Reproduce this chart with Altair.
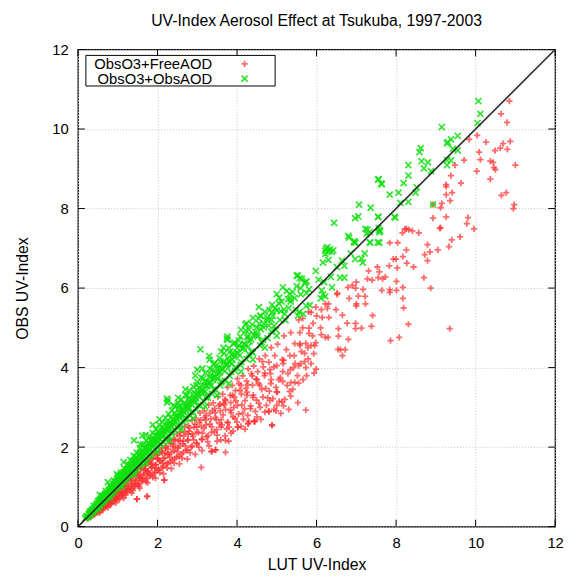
import altair as alt
import pandas as pd

TITLE = "UV-Index Aerosol Effect at Tsukuba, 1997-2003"
X_TITLE = "LUT UV-Index"
Y_TITLE = "OBS UV-Index"
SERIES = ["ObsO3+FreeAOD", "ObsO3+ObsAOD"]
TICKS = [0, 2, 4, 6, 8, 10, 12]
ONE_TO_ONE = [0, 12]

# ObsO3+FreeAOD (red +) : dense band below the 1:1 line
red_dense = [
    (0.28, 0.25), (0.37, 0.35), (0.46, 0.42), (0.55, 0.52), (0.63, 0.58), (0.72, 0.68), (0.81, 0.74),
    (0.89, 0.84), (0.98, 0.90), (1.07, 1.00), (1.15, 1.05), (1.24, 1.16), (1.33, 1.22), (1.41, 1.32),
    (1.50, 1.37), (1.59, 1.49), (1.68, 1.54), (1.76, 1.65), (1.85, 1.70), (1.94, 1.81), (2.03, 1.86),
    (2.12, 1.98), (2.21, 2.03), (2.30, 2.15), (2.40, 2.19), (2.49, 2.32), (2.58, 2.37), (2.68, 2.50),
    (2.77, 2.54), (2.87, 2.68), (2.97, 2.72), (3.07, 2.86), (3.18, 2.91), (3.29, 3.06), (3.40, 3.11),
    (3.52, 3.27), (3.64, 3.33), (3.76, 3.50), (3.88, 3.55), (4.01, 3.72), (4.14, 3.79), (4.28, 3.97),
    (4.42, 4.04), (4.56, 4.22), (4.71, 4.30), (4.86, 4.50), (5.02, 4.59), (5.18, 4.80), (5.35, 4.88),
    (0.35, 0.27), (0.45, 0.37), (0.55, 0.43), (0.65, 0.53), (0.75, 0.59), (0.85, 0.69), (0.95, 0.75),
    (1.05, 0.86), (1.15, 0.91), (1.25, 1.02), (1.35, 1.07), (1.45, 1.18), (1.55, 1.23), (1.65, 1.34),
    (1.75, 1.38), (1.85, 1.50), (1.95, 1.55), (2.05, 1.66), (2.15, 1.71), (2.25, 1.83), (2.35, 1.87),
    (2.45, 1.99), (2.55, 2.03), (2.65, 2.15), (2.76, 2.19), (2.87, 2.33), (2.98, 2.37), (3.10, 2.52),
    (3.22, 2.56), (3.34, 2.71), (3.46, 2.75), (3.58, 2.91), (3.71, 2.95), (3.84, 3.12), (3.97, 3.16),
    (4.11, 3.33), (4.25, 3.38), (4.39, 3.56), (4.54, 3.60), (4.69, 3.80), (4.84, 3.85), (5.00, 4.05),
    (5.16, 4.10), (5.33, 4.30),
    (0.42, 0.30), (0.52, 0.36), (0.62, 0.44), (0.72, 0.50), (0.82, 0.58), (0.92, 0.64), (1.02, 0.72),
    (1.12, 0.78), (1.22, 0.86), (1.32, 0.92), (1.42, 1.00), (1.52, 1.06), (1.62, 1.14), (1.72, 1.20),
    (1.82, 1.28), (1.92, 1.34), (2.02, 1.42), (2.12, 1.48), (2.22, 1.57), (2.32, 1.62), (2.43, 1.71),
    (2.54, 1.77), (2.65, 1.87), (2.76, 1.93), (2.87, 2.03), (2.99, 2.09), (3.11, 2.20), (3.23, 2.26),
    (3.36, 2.37), (3.49, 2.44), (3.62, 2.56), (3.76, 2.63), (3.90, 2.76), (4.04, 2.83), (4.19, 2.96),
    (4.34, 3.04), (4.49, 3.18), (4.65, 3.26), (4.81, 3.41), (4.98, 3.50), (5.15, 3.65),
    (0.55, 0.36), (0.75, 0.48), (0.95, 0.60), (1.15, 0.72), (1.35, 0.85), (1.48, 0.69), (1.74, 0.76),
    (1.55, 0.97), (1.75, 1.10), (1.95, 1.22), (2.17, 1.17), (2.15, 1.33), (2.35, 1.46), (2.55, 1.58),
    (2.75, 1.70), (2.95, 1.82), (3.10, 1.49), (3.12, 1.91), (3.36, 1.89), (3.46, 1.93), (3.30, 2.03),
    (3.50, 2.15), (3.71, 1.87), (3.71, 2.17), (3.59, 2.18), (3.79, 2.15), (3.70, 2.28), (3.90, 2.40),
    (4.02, 2.50), (4.10, 2.52), (4.28, 2.59), (4.30, 2.65), (4.44, 2.65), (4.50, 2.76), (4.70, 2.88),
    (4.88, 2.55), (4.80, 2.90), (4.93, 2.95), (4.98, 2.91), (5.17, 3.04), (5.13, 3.14), (5.00, 3.05),
    (5.20, 3.20), (5.35, 3.28), (5.53, 3.12), (5.73, 2.93), (4.83, 3.17), (5.00, 3.39), (5.35, 3.62),
    (5.45, 3.63), (5.40, 3.45), (4.44, 2.65), (4.80, 2.90), (5.55, 5.20), (5.65, 5.00), (5.80, 5.40),
    (5.45, 4.60), (5.60, 4.10), (5.90, 4.80), (6.00, 5.30), (6.10, 5.00), (6.30, 5.60),
    (0.25, 0.20), (0.31, 0.24), (0.33, 0.30), (0.38, 0.29), (0.40, 0.33), (0.43, 0.39), (0.47, 0.35),
    (0.49, 0.41), (0.51, 0.47), (0.56, 0.41), (0.58, 0.48), (0.60, 0.55), (0.64, 0.47), (0.66, 0.56),
    (0.68, 0.63), (0.71, 0.54), (0.74, 0.63), (0.77, 0.71), (0.79, 0.57), (0.83, 0.68), (0.86, 0.79),
    (0.88, 0.65), (0.91, 0.76), (0.94, 0.87), (0.97, 0.70), (1.00, 0.80), (1.03, 0.95), (1.06, 0.76),
    (1.09, 0.88), (1.12, 1.03), (1.14, 0.82), (1.18, 0.95), (1.21, 1.12), (1.23, 0.88), (1.27, 1.01),
    (1.30, 1.20), (1.33, 0.96), (1.37, 1.09), (1.40, 1.28), (1.43, 1.02), (1.46, 1.16), (1.49, 1.37),
    (1.52, 1.09), (1.56, 1.24), (1.59, 1.45), (1.62, 1.16), (1.66, 1.31), (1.69, 1.54), (1.72, 1.22),
    (1.76, 1.40), (1.79, 1.63), (1.82, 1.30), (1.86, 1.47), (1.89, 1.72), (1.93, 1.37), (1.96, 1.56),
    (1.99, 1.80), (2.03, 1.44), (2.07, 1.64), (2.10, 1.90), (2.14, 1.52), (2.18, 1.73), (2.21, 1.99),
    (2.26, 1.60), (2.29, 1.81), (2.33, 2.09), (2.37, 1.68), (2.41, 1.90), (2.44, 2.19), (2.48, 1.75),
    (2.52, 1.98), (2.56, 2.28), (2.60, 1.83), (2.64, 2.08), (2.68, 2.38), (2.72, 1.92), (2.77, 2.17),
    (2.81, 2.48), (2.85, 2.00), (2.89, 2.27), (2.94, 2.58), (2.98, 2.10), (3.03, 2.37), (3.08, 2.68),
    (3.12, 2.19), (3.17, 2.47), (3.22, 2.79), (3.27, 2.29), (3.32, 2.58), (3.38, 2.92), (3.43, 2.39),
    (3.48, 2.69), (3.54, 3.04), (3.60, 2.50), (3.65, 2.81), (3.71, 3.17), (3.77, 2.61), (3.83, 2.93),
    (3.89, 3.30), (3.95, 2.72), (4.01, 3.05), (4.07, 3.43), (4.14, 2.85), (4.20, 3.17), (4.27, 3.57),
    (4.34, 2.97), (4.41, 3.31), (4.48, 3.71), (4.55, 3.10), (4.62, 3.45), (4.70, 3.86), (4.77, 3.24),
    (4.85, 3.60), (4.93, 4.02), (5.01, 3.38), (5.09, 3.75), (5.17, 4.18), (5.26, 3.55), (5.34, 3.95),
    (5.44, 4.30), (5.52, 3.80), (5.62, 4.40), (5.70, 4.15),
    (1.55, 1.30), (1.70, 1.45), (1.85, 1.60), (2.00, 1.72), (2.12, 1.84), (2.26, 1.95), (2.40, 2.08),
    (2.52, 2.16), (2.66, 2.28), (2.79, 2.40), (2.92, 2.50), (3.05, 2.62), (3.18, 2.74), (3.31, 2.85),
    (3.44, 2.97), (3.57, 3.08), (3.70, 3.20), (3.83, 3.30), (3.96, 3.42), (4.10, 3.55), (4.24, 3.66),
    (4.38, 3.79), (4.52, 3.90), (4.66, 4.02), (4.80, 4.14),
    (0.62, 0.41), (0.70, 0.52), (0.78, 0.66), (0.84, 0.56), (0.92, 0.70), (1.00, 0.86), (1.04, 0.68),
    (1.10, 0.83), (1.17, 1.00), (1.20, 0.80), (1.26, 0.95), (1.34, 1.14), (1.38, 0.91), (1.44, 1.08),
    (1.51, 1.28), (1.54, 1.02), (1.61, 1.21), (1.68, 1.42), (1.71, 1.13), (1.78, 1.34), (1.84, 1.56),
    (1.88, 1.24), (1.96, 1.47), (2.01, 1.70), (2.06, 1.36), (2.13, 1.60), (2.19, 1.86), (2.24, 1.48),
    (2.31, 1.74), (2.38, 2.01), (2.42, 1.60), (2.50, 1.88), (2.57, 2.16), (2.62, 1.72), (2.70, 2.03),
    (2.77, 2.33), (2.82, 1.86), (2.91, 2.18), (2.99, 2.50), (3.04, 2.00), (3.13, 2.35), (3.21, 2.68),
    (3.26, 2.14), (3.36, 2.51), (3.45, 2.87), (3.50, 2.30), (3.60, 2.69), (3.68, 3.06), (3.74, 2.46),
    (3.85, 2.87), (3.93, 3.26), (4.00, 2.63), (4.12, 3.06), (4.22, 3.48), (4.27, 2.80), (4.40, 3.25),
    (4.50, 3.70), (4.58, 3.00), (4.72, 3.48), (4.83, 3.95), (4.90, 3.22), (5.05, 3.70), (5.14, 4.20),
    (5.28, 3.85), (5.42, 4.00),
    (3.55, 2.60), (3.66, 3.10), (3.80, 2.50), (3.92, 3.00), (4.05, 3.60), (4.16, 2.70), (4.25, 3.30),
    (4.36, 3.85), (4.46, 2.90), (4.57, 3.55), (4.64, 4.15), (4.74, 3.05), (4.86, 3.70), (4.95, 4.30),
    (5.06, 3.15), (5.15, 3.90), (5.24, 4.45), (5.32, 3.40), (5.46, 4.10), (5.58, 4.60), (5.66, 3.70),
    (5.78, 4.50), (5.86, 4.10), (5.95, 4.55), (4.60, 2.70), (4.20, 2.45), (3.85, 2.35), (5.30, 2.95),
    (5.10, 2.85),
]

# ObsO3+FreeAOD (red +) : scattered points at higher UV index
red_sparse = [
    (10.85, 10.70), (10.64, 10.38), (10.79, 10.17), (10.04, 9.84), (9.84, 9.74), (10.26, 9.67),
    (10.69, 9.63), (10.87, 9.69), (10.62, 9.52), (10.49, 9.46), (10.80, 9.49), (10.09, 9.42),
    (10.12, 9.23), (9.71, 9.22), (10.37, 9.19), (10.44, 9.16), (9.48, 9.09), (11.00, 9.09),
    (10.46, 9.03), (10.50, 8.98), (10.03, 8.94), (9.38, 8.83), (10.37, 8.74), (9.63, 8.64),
    (9.26, 8.60), (9.26, 8.55), (9.41, 8.40), (9.26, 8.35), (10.77, 8.40), (10.65, 8.33),
    (9.36, 8.20), (8.93, 8.10), (9.15, 8.13), (10.97, 8.10), (10.95, 8.00), (9.12, 8.02),
    (8.93, 7.76), (9.26, 7.79), (9.81, 7.77), (9.78, 7.62), (9.10, 7.50), (8.22, 7.48), (8.32, 7.47),
    (9.96, 7.49), (9.12, 7.52), (8.16, 7.39), (8.26, 7.49), (8.41, 7.44), (8.57, 7.39), (9.61, 7.29),
    (9.40, 7.21), (9.33, 7.04), (9.05, 6.96), (8.79, 7.09), (8.85, 6.91), (8.72, 6.84), (8.79, 6.69),
    (7.84, 7.14), (8.04, 7.14), (8.26, 6.96), (7.93, 6.73), (8.00, 6.73), (8.17, 6.79), (8.27, 6.63),
    (8.44, 6.53), (7.83, 6.56), (8.03, 6.51), (7.53, 6.53), (7.58, 6.41), (7.31, 6.43), (7.28, 6.23),
    (7.40, 6.20), (7.55, 6.26), (7.66, 6.23), (7.73, 6.28), (7.00, 6.15), (8.01, 6.17), (8.70, 6.26),
    (8.87, 6.00), (8.17, 6.02), (7.64, 5.94), (7.84, 5.89), (8.01, 5.94), (7.84, 5.96), (6.79, 6.02),
    (6.90, 6.07), (6.98, 6.00), (7.17, 5.97), (6.52, 5.84), (6.82, 5.74), (7.05, 5.80), (7.22, 5.79),
    (8.17, 5.74), (7.00, 5.60), (7.23, 5.60), (7.00, 5.55), (8.19, 5.50), (6.22, 5.60), (6.27, 5.49),
    (6.12, 5.46), (6.49, 5.46), (5.98, 5.52), (5.86, 5.39), (6.14, 5.26), (6.31, 5.26), (6.65, 5.32),
    (7.41, 5.31), (5.65, 5.24), (5.91, 5.11), (6.77, 5.12), (6.98, 5.11), (7.38, 5.04), (8.31, 5.09),
    (5.81, 4.99), (6.55, 4.98), (6.98, 4.98), (7.13, 4.99), (9.35, 4.98), (5.58, 4.88), (5.81, 4.86),
    (6.12, 4.83), (6.29, 4.76), (6.55, 4.79), (6.80, 4.71), (7.86, 4.68), (8.08, 4.76), (5.98, 4.63),
    (5.73, 4.61), (5.58, 4.56), (5.86, 4.56), (6.54, 4.46), (6.60, 4.45), (6.72, 4.45), (5.70, 4.36),
    (5.93, 4.35), (6.65, 4.30), (5.79, 4.22), (5.55, 4.05), (5.73, 4.00), (5.99, 3.96), (5.94, 3.86),
    (5.75, 3.80), (5.55, 3.61), (6.22, 4.76), (6.52, 5.87), (4.44, 2.65), (4.88, 2.55), (4.02, 2.50),
    (3.46, 1.93), (3.36, 1.89), (2.17, 1.17), (1.48, 0.69), (1.74, 0.76), (4.28, 2.59),
]

# ObsO3+ObsAOD (green x) : dense band on and above the 1:1 line
green_dense = [
    (0.18, 0.21), (0.22, 0.27), (0.26, 0.24), (0.28, 0.33), (0.32, 0.30), (0.35, 0.41), (0.38, 0.36),
    (0.41, 0.47), (0.44, 0.42), (0.46, 0.53), (0.49, 0.48), (0.52, 0.61), (0.55, 0.54), (0.57, 0.66),
    (0.60, 0.59), (0.62, 0.72), (0.64, 0.63), (0.67, 0.78), (0.70, 0.69), (0.72, 0.84), (0.74, 0.73),
    (0.77, 0.90), (0.80, 0.79), (0.82, 0.95), (0.84, 0.83), (0.87, 1.02), (0.90, 0.88), (0.92, 1.07),
    (0.95, 0.94), (0.97, 1.15), (1.00, 0.99), (1.02, 1.19), (1.05, 1.04), (1.07, 1.27), (1.10, 1.09),
    (1.12, 1.31), (1.15, 1.13), (1.17, 1.38), (1.20, 1.19), (1.22, 1.42), (1.25, 1.23), (1.27, 1.49),
    (1.30, 1.28), (1.33, 1.55), (1.35, 1.34), (1.38, 1.60), (1.40, 1.38), (1.43, 1.67), (1.45, 1.44),
    (1.48, 1.71), (1.50, 1.48), (1.53, 1.78), (1.56, 1.54), (1.58, 1.83), (1.61, 1.59), (1.64, 1.90),
    (1.66, 1.65), (1.69, 1.95), (1.72, 1.70), (1.75, 2.03), (1.78, 1.76), (1.80, 2.07), (1.83, 1.81),
    (1.86, 2.15), (1.89, 1.87), (1.92, 2.20), (1.95, 1.93), (1.98, 2.28), (2.01, 1.99), (2.04, 2.32),
    (2.08, 2.05), (2.11, 2.41), (2.15, 2.12), (2.18, 2.47), (2.22, 2.19), (2.25, 2.55), (2.29, 2.26),
    (2.32, 2.61), (2.36, 2.33), (2.40, 2.70), (2.44, 2.41), (2.47, 2.76), (2.51, 2.48), (2.55, 2.86),
    (2.59, 2.56), (2.62, 2.93), (2.66, 2.63), (2.70, 3.02), (2.74, 2.71), (2.78, 3.08), (2.82, 2.79),
    (2.86, 3.18), (2.90, 2.87), (2.94, 3.25), (2.98, 2.95), (3.03, 3.36), (3.07, 3.04), (3.12, 3.44),
    (3.17, 3.14), (3.22, 3.55), (3.27, 3.24), (3.32, 3.63), (3.37, 3.34), (3.42, 3.75), (3.47, 3.44),
    (3.53, 3.86), (3.58, 3.55), (3.64, 3.96), (3.70, 3.67), (3.76, 4.09), (3.82, 3.79), (3.88, 4.20),
    (3.95, 3.92), (4.02, 4.35), (4.09, 4.06), (4.16, 4.49), (4.24, 4.21), (4.32, 4.66), (4.40, 4.37),
    (4.49, 4.82), (4.58, 4.55), (4.67, 5.01), (4.77, 4.74), (4.87, 5.20), (4.98, 4.95), (5.10, 5.42),
    (5.22, 5.19), (5.35, 5.66), (5.48, 5.45),
    (0.30, 0.38), (0.40, 0.52), (0.50, 0.64), (0.60, 0.77), (0.70, 0.90), (0.80, 1.03), (0.90, 1.16),
    (1.00, 1.28), (1.08, 1.36), (1.16, 1.47), (1.24, 1.57), (1.32, 1.68), (1.40, 1.78), (1.48, 1.86),
    (1.56, 1.98), (1.64, 2.07), (1.72, 2.16), (1.80, 2.27), (1.88, 2.36), (1.96, 2.45), (2.04, 2.56),
    (2.12, 2.63), (2.20, 2.74), (2.28, 2.83), (2.36, 2.92), (2.44, 3.02), (2.52, 3.11), (2.60, 3.20),
    (2.70, 3.31), (2.80, 3.42), (2.90, 3.52), (3.00, 3.64), (3.10, 3.75), (3.20, 3.86), (3.32, 3.97),
    (3.44, 4.12), (3.56, 4.24), (3.68, 4.36), (3.80, 4.49), (3.94, 4.62), (4.08, 4.78), (4.22, 4.93),
    (4.38, 5.08), (4.54, 5.24), (4.70, 5.40), (4.88, 5.58), (5.06, 5.76), (5.25, 5.93),
    (0.50, 0.46), (0.80, 0.74), (1.10, 1.02), (1.40, 1.31), (1.70, 1.60), (2.00, 1.87), (2.30, 2.16),
    (2.60, 2.45), (2.90, 2.72), (3.20, 3.02), (3.50, 3.30), (3.80, 3.60), (4.10, 3.90), (4.40, 4.20),
    (4.70, 4.50), (5.00, 4.80),
    (0.23, 0.25), (0.27, 0.31), (0.31, 0.35), (0.34, 0.37), (0.36, 0.44), (0.39, 0.43), (0.42, 0.44),
    (0.43, 0.51), (0.47, 0.50), (0.48, 0.58), (0.51, 0.55), (0.53, 0.57), (0.54, 0.66), (0.58, 0.62),
    (0.59, 0.70), (0.61, 0.66), (0.63, 0.77), (0.66, 0.70), (0.68, 0.74), (0.69, 0.83), (0.71, 0.77),
    (0.73, 0.80), (0.76, 0.82), (0.78, 0.94), (0.79, 0.85), (0.81, 0.88), (0.83, 0.99), (0.86, 0.92),
    (0.88, 0.97), (0.89, 1.08), (0.91, 0.98), (0.93, 1.01), (0.94, 1.12), (0.96, 1.04), (0.99, 1.09),
    (1.01, 1.22), (1.03, 1.10), (1.04, 1.14), (1.06, 1.31), (1.09, 1.17), (1.11, 1.21), (1.13, 1.26),
    (1.14, 1.36), (1.18, 1.26), (1.19, 1.30), (1.21, 1.37), (1.23, 1.33), (1.26, 1.36), (1.28, 1.43),
    (1.29, 1.52), (1.31, 1.40), (1.34, 1.45), (1.36, 1.52), (1.37, 1.63), (1.39, 1.48), (1.42, 1.54),
    (1.44, 1.62), (1.46, 1.75), (1.47, 1.57), (1.49, 1.60), (1.52, 1.66), (1.54, 1.81), (1.55, 1.67),
    (1.57, 1.70), (1.60, 1.74), (1.62, 1.88), (1.63, 1.75), (1.65, 1.79), (1.67, 1.86), (1.68, 1.99),
    (1.71, 1.84), (1.73, 1.88), (1.74, 1.96), (1.77, 2.10), (1.79, 1.92), (1.81, 1.97), (1.82, 2.05),
    (1.84, 2.19), (1.87, 2.01), (1.90, 2.05), (1.91, 2.14), (1.93, 2.31), (1.97, 2.11), (1.99, 2.17),
    (2.02, 2.24), (2.03, 2.40), (2.06, 2.20), (2.09, 2.27), (2.10, 2.35), (2.13, 2.50), (2.16, 2.31),
    (2.19, 2.38), (2.21, 2.44), (2.23, 2.63), (2.26, 2.41), (2.28, 2.49), (2.31, 2.55), (2.33, 2.74),
    (2.37, 2.52), (2.39, 2.60), (2.42, 2.66), (2.43, 2.86), (2.46, 2.62), (2.49, 2.71), (2.53, 2.79),
    (2.54, 2.98), (2.57, 2.74), (2.61, 2.83), (2.64, 2.90), (2.67, 3.10), (2.68, 2.86), (2.72, 2.95),
    (2.76, 3.04), (2.79, 3.24), (2.80, 2.98), (2.84, 3.09), (2.88, 3.16), (2.92, 3.38), (2.93, 3.12),
    (2.97, 3.22), (3.01, 3.31), (3.05, 3.50), (3.06, 3.26), (3.10, 3.37), (3.14, 3.45), (3.19, 3.66),
    (3.20, 3.40), (3.25, 3.53), (3.30, 3.62), (3.34, 3.82), (3.35, 3.56), (3.40, 3.69), (3.45, 3.78),
    (3.50, 3.99), (3.51, 3.72), (3.57, 3.88), (3.62, 3.97), (3.67, 4.16), (3.69, 3.91), (3.74, 4.05),
    (3.80, 4.16), (3.86, 4.33), (3.87, 4.10), (3.93, 4.27), (3.99, 4.38), (4.05, 4.56), (4.07, 4.31),
    (4.13, 4.47), (4.19, 4.59), (4.26, 4.76), (4.28, 4.53), (4.35, 4.71), (4.42, 4.83), (4.50, 5.01),
    (4.52, 4.78), (4.60, 4.97), (4.68, 5.10), (4.76, 5.26), (4.80, 5.06), (4.90, 5.30), (5.00, 5.44),
    (5.12, 5.66), (5.18, 5.46), (5.28, 5.72), (5.40, 5.90), (5.45, 5.75), (5.60, 6.00), (5.70, 6.12),
    (0.21, 0.23), (0.29, 0.29), (0.33, 0.39), (0.37, 0.40), (0.45, 0.46), (0.47, 0.56), (0.53, 0.52),
    (0.56, 0.60), (0.59, 0.67), (0.65, 0.66), (0.67, 0.74), (0.69, 0.80), (0.75, 0.76), (0.78, 0.86),
    (0.80, 0.92), (0.85, 0.86), (0.88, 0.99), (0.91, 1.05), (0.96, 0.97), (0.99, 1.12), (1.02, 1.17),
    (1.07, 1.08), (1.10, 1.24), (1.13, 1.29), (1.18, 1.19), (1.21, 1.35), (1.25, 1.44), (1.30, 1.31),
    (1.33, 1.48), (1.37, 1.56), (1.42, 1.43), (1.45, 1.62), (1.49, 1.70), (1.54, 1.56), (1.58, 1.75),
    (1.62, 1.84), (1.67, 1.68), (1.71, 1.89), (1.75, 1.98), (1.80, 1.81), (1.84, 2.04), (1.88, 2.13),
    (1.93, 1.95), (1.98, 2.19), (2.02, 2.29), (2.07, 2.09), (2.12, 2.34), (2.16, 2.45), (2.21, 2.23),
    (2.27, 2.51), (2.31, 2.62), (2.36, 2.39), (2.42, 2.67), (2.46, 2.79), (2.52, 2.55), (2.58, 2.85),
    (2.62, 2.97), (2.68, 2.71), (2.74, 3.03), (2.79, 3.16), (2.85, 2.88), (2.91, 3.21), (2.96, 3.34),
    (3.03, 3.06), (3.09, 3.41), (3.15, 3.55), (3.22, 3.25), (3.28, 3.62), (3.34, 3.76), (3.41, 3.45),
    (3.48, 3.84), (3.55, 3.99), (3.62, 3.66), (3.70, 4.08), (3.77, 4.23), (3.85, 3.89), (3.93, 4.33),
    (4.01, 4.50), (4.10, 4.14), (4.18, 4.60), (4.27, 4.80), (4.36, 4.40), (4.46, 4.90), (4.56, 5.10),
    (4.65, 4.70), (4.75, 5.20), (4.86, 4.91), (4.96, 5.50), (5.08, 5.20), (5.30, 5.50),
    (2.55, 3.05), (2.75, 3.30), (2.98, 3.55), (3.15, 3.72), (3.38, 3.95), (3.58, 4.15), (3.82, 4.40),
    (4.04, 4.68), (4.30, 4.95), (4.58, 5.30), (4.82, 5.45), (5.05, 5.62), (5.32, 5.85), (3.25, 3.30),
    (3.60, 3.62), (3.95, 4.00), (4.30, 4.34), (4.62, 4.64), (4.93, 5.05), (5.20, 5.35),
]

# ObsO3+ObsAOD (green x) : scattered points
green_sparse = [
    (0.55, 0.80), (0.75, 1.12), (0.98, 1.32), (1.15, 1.62), (1.41, 2.17), (1.57, 2.07), (1.62, 2.29),
    (1.88, 2.56), (1.70, 2.30), (2.05, 2.70), (2.24, 3.12), (2.24, 3.22), (2.26, 3.17), (2.52, 3.24),
    (2.40, 3.05), (2.70, 3.45), (2.95, 3.80), (3.00, 3.95), (3.13, 3.98), (3.08, 4.46), (3.30, 4.29),
    (3.31, 4.20), (3.41, 4.08), (3.66, 4.50), (3.74, 4.73), (3.76, 4.78), (3.76, 4.70), (3.60, 4.40),
    (3.90, 4.60), (4.21, 5.08), (4.24, 5.11), (4.10, 4.95), (4.40, 5.25), (4.55, 5.52), (4.88, 5.39),
    (4.60, 5.30), (5.15, 6.02), (5.35, 5.72), (5.53, 6.32), (5.58, 6.25), (5.75, 6.17), (5.00, 5.85),
    (5.50, 6.05),
    (5.50, 6.31), (5.63, 6.23), (5.72, 6.15), (6.05, 6.21), (6.19, 6.15), (6.39, 6.02), (5.81, 5.97),
    (6.13, 5.94), (5.60, 5.84), (5.75, 5.88), (6.16, 5.84), (6.11, 5.74), (6.22, 5.79), (5.74, 5.55),
    (5.83, 5.57), (5.57, 5.40), (5.66, 5.35), (5.53, 5.31), (5.98, 6.43), (6.36, 6.28), (6.59, 6.26),
    (6.70, 6.26), (6.70, 6.56), (6.51, 6.53), (6.16, 6.64), (6.30, 6.71), (6.64, 6.69), (6.97, 6.73),
    (7.13, 6.74), (7.16, 6.64), (6.22, 6.86), (6.27, 7.03), (6.34, 6.98), (6.22, 6.94), (6.38, 6.91),
    (6.80, 7.31), (6.95, 7.18), (6.98, 7.14), (7.35, 7.14), (7.58, 7.14), (7.23, 7.49), (7.26, 7.37),
    (7.58, 7.46), (7.58, 7.40), (6.44, 7.64), (6.97, 7.76), (7.05, 7.80), (7.55, 7.79), (7.96, 7.79),
    (7.07, 8.10), (7.36, 8.02), (8.11, 8.14), (7.55, 8.73), (7.63, 8.63), (7.28, 7.47), (7.34, 7.41),
    (7.60, 7.43), (6.82, 7.27), (6.94, 7.15), (6.24, 6.99), (6.42, 6.95), (6.30, 6.92), (7.34, 7.15),
    (7.54, 7.15), (7.21, 6.87), (6.86, 6.87),
    (10.07, 10.70), (10.12, 10.38), (10.05, 10.15), (9.15, 10.05), (9.55, 9.83), (9.38, 9.74),
    (9.30, 9.67), (9.28, 9.64), (8.62, 9.52), (8.59, 9.42), (9.43, 9.50), (9.55, 9.46), (8.64, 9.19),
    (8.80, 9.16), (9.28, 9.22), (9.38, 9.21), (8.31, 9.09), (8.70, 9.01), (8.88, 8.94), (9.28, 9.09),
    (7.56, 8.74), (7.64, 8.61), (8.31, 8.83), (8.19, 8.64), (8.52, 8.53), (8.06, 8.40), (7.84, 8.35),
    (8.49, 8.40), (8.31, 8.17), (8.93, 8.10), (7.55, 7.79), (7.98, 7.77), (7.56, 7.51),
]

red_df = pd.DataFrame(red_dense + red_sparse, columns=["x", "y"])
green_df = pd.DataFrame(green_dense + green_sparse, columns=["x", "y"])
diag_df = pd.DataFrame({"x": ONE_TO_ONE, "y": ONE_TO_ONE})
xtick_df = pd.DataFrame({"x": TICKS})
ytick_df = pd.DataFrame({"y": TICKS})

W = 484
H = 484
FONT = "Liberation Sans"
PLUS = "M-1,0L1,0M0,-1L0,1"
CROSS = "M-1,-1L1,1M-1,1L1,-1"
RED = "#ff2a2a"
GREEN = "#10e010"

xscale = alt.Scale(domain=[0, 12], nice=False, zero=False)
yscale = alt.Scale(domain=[0, 12], nice=False, zero=False)
xaxis = alt.Axis(values=TICKS, title=X_TITLE, grid=True, ticks=False, domain=False,
                 labelPadding=9, titlePadding=6, format="d", labelFlush=False)
yaxis = alt.Axis(values=TICKS, title=Y_TITLE, grid=True, ticks=False, domain=False,
                 labelPadding=10, titlePadding=22, format="d", labelFlush=False)

X = alt.X("x:Q", scale=xscale, axis=xaxis)
Y = alt.Y("y:Q", scale=yscale, axis=yaxis)

red = alt.Chart(red_df).mark_point(
    shape=PLUS, filled=False, size=40, strokeWidth=1.8, color=RED, opacity=0.7
).encode(x=X, y=Y)

green = alt.Chart(green_df).mark_point(
    shape=CROSS, filled=False, size=38, strokeWidth=1.7, color=GREEN, opacity=0.85
).encode(x=X, y=Y)

diag = alt.Chart(diag_df).mark_line(color="#2a2a2a", strokeWidth=1.6).encode(x=X, y=Y)

tick_bottom = alt.Chart(xtick_df).mark_rule(color="black", strokeWidth=1).encode(
    x=X, y=alt.value(H), y2=alt.value(H - 7))
tick_top = alt.Chart(xtick_df).mark_rule(color="black", strokeWidth=1).encode(
    x=X, y=alt.value(0), y2=alt.value(7))
tick_left = alt.Chart(ytick_df).mark_rule(color="black", strokeWidth=1).encode(
    y=Y, x=alt.value(0), x2=alt.value(7))
tick_right = alt.Chart(ytick_df).mark_rule(color="black", strokeWidth=1).encode(
    y=Y, x=alt.value(W), x2=alt.value(W - 7))

leg_df = pd.DataFrame({"label": SERIES})
leg_box = alt.Chart(leg_df.head(1)).mark_rect(fill="white", stroke="black", strokeWidth=1).encode(
    x=alt.value(8), x2=alt.value(200), y=alt.value(6), y2=alt.value(37))
leg_t1 = alt.Chart(leg_df.iloc[[0]]).mark_text(
    align="right", baseline="middle", font=FONT, fontSize=15, color="black"
).encode(text="label:N", x=alt.value(136), y=alt.value(14.5))
leg_t2 = alt.Chart(leg_df.iloc[[1]]).mark_text(
    align="right", baseline="middle", font=FONT, fontSize=15, color="black"
).encode(text="label:N", x=alt.value(136), y=alt.value(29.5))
leg_m1 = alt.Chart(leg_df.iloc[[0]]).mark_point(
    shape=PLUS, filled=False, size=40, strokeWidth=1.8, color=RED, opacity=0.7
).encode(x=alt.value(169), y=alt.value(14.5))
leg_m2 = alt.Chart(leg_df.iloc[[1]]).mark_point(
    shape=CROSS, filled=False, size=38, strokeWidth=1.7, color=GREEN, opacity=0.85
).encode(x=alt.value(169), y=alt.value(29.5))

chart = alt.layer(
    red, green, diag, tick_bottom, tick_top, tick_left, tick_right,
    leg_box, leg_t1, leg_t2, leg_m1, leg_m2
).properties(
    width=W, height=H,
    title=alt.TitleParams(TITLE, font=FONT, fontSize=16, fontWeight="normal",
                          color="black", anchor="middle", offset=14),
    autosize=alt.AutoSizeParams(type="none"),
    padding={"left": 71, "top": 38, "right": 9, "bottom": 48},
).configure_axis(
    labelFont=FONT, labelFontSize=15, labelColor="black",
    titleFont=FONT, titleFontSize=16, titleFontWeight="normal", titleColor="black",
    gridColor="#c4c4c4", gridDash=[1, 2], gridWidth=1,
).configure_view(
    stroke="black", strokeWidth=1.3
)

chart.save("out.html", embed_options={"renderer": "svg", "actions": False})
